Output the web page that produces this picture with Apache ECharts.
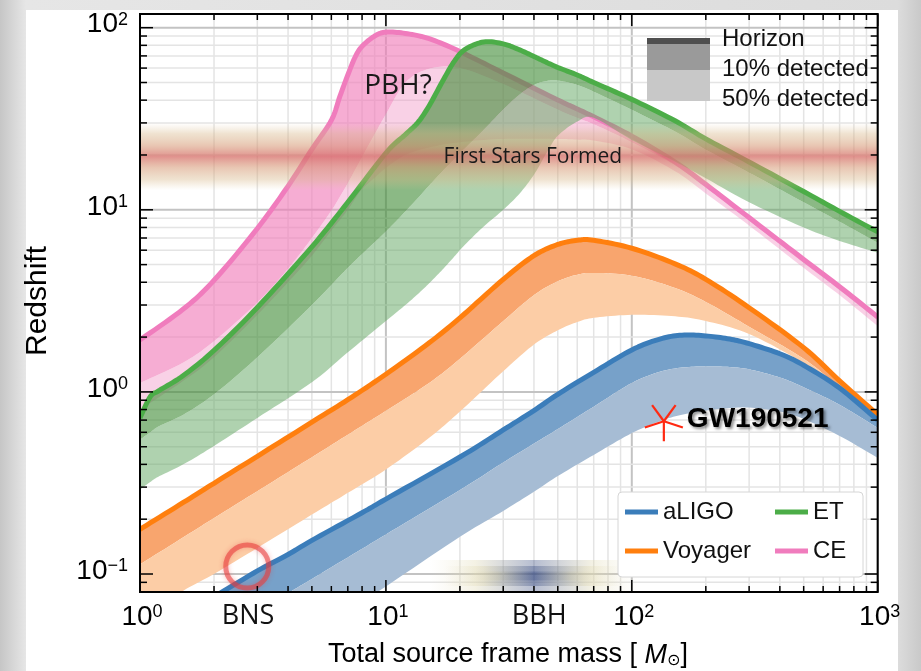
<!DOCTYPE html>
<html>
<head>
<meta charset="utf-8">
<script src="https://cdn.jsdelivr.net/npm/echarts@6/dist/echarts.min.js"></script>
<style>html,body{margin:0;padding:0;background:#fff}#c{width:921px;height:671px}</style>
</head>
<body>
<div id="c"></div>
<script>
// ---------------- data ----------------
const aligoMass    = [2, 3, 4, 5, 8, 10, 20, 30, 40, 50, 70, 100, 130, 160, 200, 250, 300, 400, 500, 700, 1000];
const aligoHorizon = [0.075, 0.104, 0.128, 0.153, 0.217, 0.258, 0.439, 0.618, 0.79, 0.97, 1.28, 1.70, 1.95, 2.05, 2.03, 1.95, 1.84, 1.62, 1.40, 1.05, 0.70];
const aligo10      = [0.0446, 0.0621, 0.0785, 0.094, 0.1375, 0.165, 0.289, 0.41, 0.52, 0.625, 0.83, 1.12, 1.29, 1.36, 1.38, 1.37, 1.33, 1.20, 1.06, 0.85, 0.634];
const aligo50      = [0.0197, 0.0285, 0.037, 0.0457, 0.0702, 0.0855, 0.160, 0.222, 0.283, 0.345, 0.451, 0.594, 0.69, 0.75, 0.79, 0.815, 0.82, 0.78, 0.71, 0.573, 0.434];

const voyagerMass    = [1, 1.5, 2, 3, 5, 7, 10, 15, 20, 30, 40, 50, 60, 70, 100, 150, 200, 300, 500, 700, 1000];
const voyagerHorizon = [0.176, 0.247, 0.315, 0.443, 0.682, 0.906, 1.25, 1.86, 2.55, 4.15, 5.6, 6.45, 6.8, 6.8, 6.15, 5.05, 4.15, 2.9, 1.75, 1.15, 0.75];
const voyager10      = [0.113, 0.159, 0.203, 0.285, 0.438, 0.582, 0.787, 1.12, 1.52, 2.45, 3.40, 4.05, 4.4, 4.5, 4.35, 3.72, 3.12, 2.28, 1.52, 1.06, 0.72];
const voyager50      = [0.057, 0.081, 0.100, 0.139, 0.212, 0.279, 0.375, 0.56, 0.78, 1.30, 1.82, 2.18, 2.42, 2.55, 2.65, 2.60, 2.45, 2.08, 1.44, 1.04, 0.70];

const etMass    = [1, 1.1, 1.2, 1.5, 2, 3, 5, 7, 10, 12, 13.5, 15, 17, 19, 21, 25, 30, 35, 40, 45, 50, 60, 70, 100, 150, 200, 300, 500, 700, 1000];
const etHorizon = [0.72, 0.94, 1.02, 1.23, 1.69, 2.91, 6.26, 11.0, 20.5, 25.9, 30.2, 37.3, 50.8, 65.6, 76, 83.5, 81.5, 75.5, 69.5, 64.5, 60.5, 55.0, 50.0, 40.4, 30.8, 24.5, 18.3, 12.6, 9.8, 7.57];
const et10      = [0.547, 0.60, 0.65, 0.75, 0.97, 1.55, 3.0, 4.8, 7.6, 9.8, 11.6, 13.6, 16.3, 19.0, 21.8, 27.5, 35.5, 43.0, 48.5, 51.0, 51.3, 48.5, 44.5, 35.4, 26.9, 21.4, 16.0, 11.0, 8.6, 6.59];
const et50      = [0.291, 0.32, 0.345, 0.40, 0.505, 0.72, 1.13, 1.65, 2.45, 3.0, 3.45, 3.95, 4.7, 5.55, 6.45, 8.1, 10.0, 12.3, 15.6, 20.5, 25.5, 30.5, 32.0, 24.2, 18.4, 14.9, 11.0, 8.0, 6.75, 5.81];

const ceMass    = [1, 1.5, 2, 3, 4, 5, 6, 6.5, 7, 7.5, 8, 9, 10, 12, 15, 20, 30, 50, 60, 70, 100, 150, 200, 300, 500, 700, 1000];
const ceHorizon = [1.93, 2.85, 4.1, 7.9, 13.5, 21.5, 31, 42, 55, 69, 79, 90, 94.5, 93, 87, 74, 56.4, 40.1, 35.8, 32.4, 25.4, 18.3, 13.8, 9.06, 5.34, 3.78, 2.58];
const ce10      = [1.12, 1.45, 1.9, 3.1, 4.75, 7.0, 9.9, 11.8, 14.0, 16.6, 19.5, 26.0, 33.5, 50, 59.5, 60, 49, 35.5, 32, 29.5, 23.5, 17.5, 13.2, 8.7, 5.1, 3.62, 2.47];
const ce50      = [0.80, 1.15, 1.55, 2.65, 4.0, 5.6, 7.7, 8.8, 10.0, 11.5, 13.0, 15.0, 17.0, 20.0, 22.0, 23.5, 24.5, 24.5, 24.3, 24.0, 21.5, 16.3, 12.3, 8.2, 4.8, 3.4, 2.3];

const firstStarsRange = [12.8, 30];        // redshift band "First Stars Formed"
const gw190521 = [135, 0.69];              // total mass, redshift
const bnsCircle = [2.73, 0.11];
const classLabels = ['BNS', 'BBH'];
const classMasses = [2.75, 42];

const xMajorTicks = [1, 10, 100, 1000];
const xTickExponents = ['0', '1', '2', '3'];
const xMinorTicks = [2, 3, 4, 5, 6, 7, 8, 9, 20, 30, 40, 50, 60, 70, 80, 90, 200, 300, 400, 500, 600, 700, 800, 900];
const yMajorTicks = [0.1, 1, 10, 100];
const yTickExponents = ['\u22121', '0', '1', '2'];
const yMinorTicks = [0.09, 0.2, 0.3, 0.4, 0.5, 0.6, 0.7, 0.8, 0.9, 2, 3, 4, 5, 6, 7, 8, 9, 20, 30, 40, 50, 60, 70, 80, 90];

// ---------------- helpers ----------------
function smooth(pts) {
  const out = [], n = pts.length, steps = 10;
  for (let i = 0; i < n - 1; i++) {
    const p0 = pts[i > 0 ? i - 1 : i], p1 = pts[i], p2 = pts[i + 1], p3 = pts[i + 2 < n ? i + 2 : i + 1];
    for (let s = 0; s < steps; s++) {
      const t = s / steps, t2 = t * t, t3 = t2 * t;
      const f = k => 0.5 * (2 * p1[k] + (-p0[k] + p2[k]) * t + (2 * p0[k] - 5 * p1[k] + 4 * p2[k] - p3[k]) * t2 + (-p0[k] + 3 * p1[k] - 3 * p2[k] + p3[k]) * t3);
      out.push([f(0), f(1)]);
    }
  }
  out.push(pts[n - 1].slice());
  return out;
}

function detectorSeries(name, mass, hor, p10, p50, sty, z) {
  return {
    type: 'custom', name: name, z: z, clip: true, silent: true,
    itemStyle: { color: sty.line },
    data: mass.map((m, i) => [m, hor[i], p10[i], p50[i]]),
    renderItem: function (params, api) {
      if (params.dataIndexInside !== 0) return null;
      const n = params.dataInsideLength;
      const T = [], M = [], B = [];
      for (let i = 0; i < n; i++) {
        const m = api.value(0, i);
        T.push(api.coord([m, api.value(1, i)]));
        M.push(api.coord([m, api.value(2, i)]));
        B.push(api.coord([m, api.value(3, i)]));
      }
      const t = smooth(T), mm = smooth(M), b = smooth(B);
      return { type: 'group', children: [
        { type: 'polygon', shape: { points: t.concat(mm.slice().reverse()) }, style: { fill: sty.band10 } },
        { type: 'polygon', shape: { points: mm.concat(b.slice().reverse()) }, style: { fill: sty.band50 } },
        { type: 'polyline', shape: { points: t }, style: { stroke: sty.line, lineWidth: 5, fill: null, lineJoin: 'round' } }
      ]};
    }
  };
}

const FONT = 'Liberation Sans';
const supRich = { s: { fontSize: 18, fontFamily: FONT, verticalAlign: 'top', lineHeight: 18, fill: '#000', color: '#000' } };

function txt(o) {
  const s = Object.assign({}, o);
  if (s.align) s.textAlign = s.align;
  if (s.verticalAlign) s.textVerticalAlign = s.verticalAlign;
  return s;
}

const ymin = Math.pow(10, -1.0988), ymax = Math.pow(10, 2.0752);

const chart = echarts.init(document.getElementById('c'), null, { renderer: 'canvas' });

const option = {
  animation: false,
  backgroundColor: { type: 'linear', x: 0, y: 0, x2: 1, y2: 0, colorStops: [
    { offset: 0, color: '#c6c6c6' }, { offset: 0.028, color: '#e6e6e6' },
    { offset: 0.975, color: '#dcdcdc' }, { offset: 1, color: '#c9c9c9' }] },
  grid: { left: 140, right: 43.3, top: 14, bottom: 79 },
  xAxis: { type: 'log', logBase: 10, min: 1, max: 1000,
    axisLine: { show: false }, axisTick: { show: false }, axisLabel: { show: false }, splitLine: { show: false } },
  yAxis: { type: 'log', logBase: 10, min: ymin, max: ymax,
    axisLine: { show: false }, axisTick: { show: false }, axisLabel: { show: false }, splitLine: { show: false } },
  legend: {
    data: ['aLIGO', 'ET', 'Voyager', 'CE'],
    left: 618, top: 492, width: 235, orient: 'horizontal',
    itemWidth: 33, itemHeight: 5, itemGap: 15, icon: 'rect',
    padding: [8, 10, 14, 7], z: 30,
    backgroundColor: '#ffffff', borderColor: '#d6d6d6', borderWidth: 1, borderRadius: 4,
    selectedMode: false,
    formatter: name => (name === 'aLIGO' || name === 'Voyager') ? '{a|' + name + '}' : '{b|' + name + '}',
    textStyle: { fontFamily: FONT, fontSize: 24, color: '#111', lineHeight: 24,
      rich: { a: { width: 97, fontSize: 24, fontFamily: FONT, color: '#111', lineHeight: 24 },
              b: { width: 40, fontSize: 24, fontFamily: FONT, color: '#111', lineHeight: 24 } } }
  },
  graphic: [
    { type: 'rect', z: -100, shape: { x: 26, y: 10, width: 872, height: 661 }, style: { fill: '#ffffff' }, silent: true },
    { type: 'text', z: 50, x: 38, y: 301, rotation: Math.PI / 2,
      style: txt({ text: 'Redshift', fontSize: 30, fontFamily: FONT, fill: '#000', align: 'center', verticalAlign: 'middle' }) },
    { type: 'text', z: 50, x: 508, y: 655,
      style: txt({ text: 'Total source frame mass [ {i|M}{u|\u2299}]', fontSize: 27, fontFamily: FONT, fill: '#000',
        align: 'center', verticalAlign: 'middle',
        rich: { i: { fontStyle: 'italic', fontSize: 27, fontFamily: FONT, fill: '#000' },
                u: { fontSize: 16, fontFamily: 'DejaVu Sans', verticalAlign: 'bottom', lineHeight: 14, fill: '#000' } } }) },
    { type: 'rect', z: 40, shape: { x: 647, y: 38, width: 63, height: 32 }, style: { fill: '#9a9a9a' } },
    { type: 'rect', z: 40, shape: { x: 647, y: 70, width: 63, height: 31 }, style: { fill: '#c8c8c8' } },
    { type: 'rect', z: 41, shape: { x: 647, y: 38, width: 63, height: 6 }, style: { fill: '#4f4f4f' } },
    { type: 'text', z: 41, x: 722, y: 39, style: txt({ text: 'Horizon', fontSize: 24, fontFamily: FONT, fill: '#111', align: 'left', verticalAlign: 'middle' }) },
    { type: 'text', z: 41, x: 722, y: 69, style: txt({ text: '10% detected', fontSize: 24, fontFamily: FONT, fill: '#111', align: 'left', verticalAlign: 'middle' }) },
    { type: 'text', z: 41, x: 722, y: 99, style: txt({ text: '50% detected', fontSize: 24, fontFamily: FONT, fill: '#111', align: 'left', verticalAlign: 'middle' }) }
  ],
  series: [
    { type: 'custom', name: 'xgrid', z: 1, silent: true, clip: false,
      data: xMajorTicks.concat(xMinorTicks).map(v => [v, 1]),
      renderItem: function (params, api) {
        const v = api.value(0), r = params.coordSys, x = api.coord([v, 1])[0];
        const major = xMajorTicks.indexOf(v) >= 0;
        return { type: 'line', shape: { x1: x, y1: r.y, x2: x, y2: r.y + r.height },
          style: { stroke: major ? '#c3c3c3' : '#e4e4e4', lineWidth: major ? 2 : 1.5 } };
      } },
    { type: 'custom', name: 'ygrid', z: 1, silent: true, clip: false,
      data: yMajorTicks.concat(yMinorTicks).map(v => [1, v]),
      renderItem: function (params, api) {
        const v = api.value(1), r = params.coordSys, y = api.coord([1, v])[1];
        const major = yMajorTicks.indexOf(v) >= 0;
        return { type: 'line', shape: { x1: r.x, y1: y, x2: r.x + r.width, y2: y },
          style: { stroke: major ? '#c3c3c3' : '#e4e4e4', lineWidth: major ? 2 : 1.5 } };
      } },
    detectorSeries('Voyager', voyagerMass, voyagerHorizon, voyager10, voyager50,
      { line: '#ff7f0e', band10: '#f8a56e', band50: '#fccda6' }, 3),
    detectorSeries('aLIGO', aligoMass, aligoHorizon, aligo10, aligo50,
      { line: '#3b7dba', band10: '#77a1c9', band50: '#a6bcd4' }, 4),
    detectorSeries('CE', ceMass, ceHorizon, ce10, ce50,
      { line: '#f07cbd', band10: 'rgba(240,122,184,0.62)', band50: 'rgba(240,145,195,0.42)' }, 5),
    detectorSeries('ET', etMass, etHorizon, et10, et50,
      { line: '#4cad48', band10: 'rgba(68,142,58,0.62)', band50: 'rgba(95,165,95,0.5)' }, 6),
    { type: 'custom', name: 'firstStars', z: 8, silent: true, clip: true,
      data: [[1, firstStarsRange[0]], [1000, firstStarsRange[1]]],
      renderItem: function (params, api) {
        if (params.dataIndexInside !== 0) return null;
        const r = params.coordSys;
        const yb = api.coord([1, api.value(1, 0)])[1], yt = api.coord([1, api.value(1, 1)])[1];
        return { type: 'rect', shape: { x: r.x - 4, y: yt, width: r.width + 8, height: yb - yt },
          style: { fill: new echarts.graphic.LinearGradient(0, 0, 0, 1, [
            { offset: 0, color: 'rgba(222,195,150,0)' },
            { offset: 0.16, color: 'rgba(214,180,132,0.38)' },
            { offset: 0.34, color: 'rgba(214,150,115,0.55)' },
            { offset: 0.5, color: 'rgba(214,108,102,0.74)' },
            { offset: 0.66, color: 'rgba(214,150,115,0.55)' },
            { offset: 0.84, color: 'rgba(214,180,132,0.38)' },
            { offset: 1, color: 'rgba(222,195,150,0)' }]) } };
      } },
    { type: 'custom', name: 'classes', z: 9, silent: true, clip: false,
      data: classMasses.map(m => [m, 1]),
      renderItem: function (params, api) {
        const i = params.dataIndexInside, r = params.coordSys;
        const x = api.coord([api.value(0), 1])[0], bottom = r.y + r.height;
        const children = [{ type: 'text', x: x, y: bottom + 11,
          style: txt({ text: classLabels[i], fontSize: 27, fontFamily: 'Open Sans', fill: '#111', align: 'center', verticalAlign: 'top' }) }];
        if (classLabels[i] === 'BBH') {
          const g = () => new echarts.graphic.LinearGradient(0, 0, 1, 0, [
            { offset: 0, color: 'rgba(228,222,190,0)' }, { offset: 0.22, color: 'rgba(222,214,172,0.9)' },
            { offset: 0.5, color: 'rgba(52,72,128,1)' }, { offset: 0.78, color: 'rgba(222,214,172,0.9)' },
            { offset: 1, color: 'rgba(228,222,190,0)' }]);
          [[210, 32], [180, 20], [130, 9]].forEach(function (d) {
            children.unshift({ type: 'rect', shape: { x: x - 5 - d[0] / 2, y: bottom - 16 - d[1] / 2, width: d[0], height: d[1] },
              style: { fill: g(), opacity: 0.36 } });
          });
        }
        return { type: 'group', children: children };
      } },
    { type: 'scatter', name: 'bns', z: 10, silent: true, data: [bnsCircle], symbol: 'circle', symbolSize: 43,
      itemStyle: { color: 'rgba(0,0,0,0)', borderColor: 'rgba(232,60,60,0.72)', borderWidth: 5,
        shadowBlur: 5, shadowColor: 'rgba(232,60,60,0.55)' } },
    { type: 'custom', name: 'gw', z: 11, silent: true, clip: false, data: [gw190521],
      renderItem: function (params, api) {
        const p = api.coord([api.value(0), api.value(1)]);
        const ch = [];
        [90, 162, 234, 306, 18].forEach(function (a) {
          const rad = a * Math.PI / 180;
          ch.push({ type: 'line', shape: { x1: p[0], y1: p[1], x2: p[0] + 20 * Math.cos(rad), y2: p[1] + 20 * Math.sin(rad) },
            style: { stroke: '#ff2a12', lineWidth: 2.2 } });
        });
        ch.push({ type: 'text', x: p[0] + 23, y: p[1] - 1.5,
          style: txt({ text: 'GW190521', fontSize: 28, fontWeight: 'bold', fontFamily: FONT, fill: '#000',
            align: 'left', verticalAlign: 'middle',
            textShadowColor: 'rgba(0,0,0,0.45)', textShadowBlur: 3, textShadowOffsetX: 2, textShadowOffsetY: 2 }) });
        return { type: 'group', children: ch };
      } },
    { type: 'custom', name: 'notes', z: 11, silent: true, clip: false,
      data: [[11.2, 47.8], [39.6, 19.4]],
      renderItem: function (params, api) {
        const i = params.dataIndexInside;
        const p = api.coord([api.value(0), api.value(1)]);
        const s = i === 0
          ? { text: 'PBH?', fontSize: 28, fontFamily: 'Open Sans', fill: '#1a1a1a', align: 'center', verticalAlign: 'middle' }
          : { text: 'First Stars Formed', fontSize: 21, fontFamily: 'Open Sans', fill: '#1a1a1a', align: 'center', verticalAlign: 'middle' };
        return { type: 'text', x: p[0], y: p[1], style: txt(s) };
      } },
    { type: 'custom', name: 'xticks', z: 12, silent: true, clip: false,
      data: xMajorTicks.concat(xMinorTicks).map(v => [v, 1]),
      renderItem: function (params, api) {
        const v = api.value(0), r = params.coordSys, x = api.coord([v, 1])[0];
        const idx = xMajorTicks.indexOf(v), len = idx >= 0 ? 12 : 6;
        const ch = [
          { type: 'line', shape: { x1: x, y1: r.y + r.height, x2: x, y2: r.y + r.height - len }, style: { stroke: '#000', lineWidth: 1.5 } },
          { type: 'line', shape: { x1: x, y1: r.y, x2: x, y2: r.y + len }, style: { stroke: '#000', lineWidth: 1.5 } }
        ];
        if (idx >= 0) ch.push({ type: 'text', x: x + 2, y: r.y + r.height + 11,
          style: txt({ text: '10{s|' + xTickExponents[idx] + '}', rich: supRich, fontSize: 28, fontFamily: FONT, fill: '#000', align: 'center', verticalAlign: 'top' }) });
        if (params.dataIndexInside === 0) ch.push({ type: 'rect', shape: { x: r.x, y: r.y, width: r.width, height: r.height },
          style: { fill: null, stroke: '#000', lineWidth: 2 } });
        return { type: 'group', children: ch };
      } },
    { type: 'custom', name: 'yticks', z: 12, silent: true, clip: false,
      data: yMajorTicks.concat(yMinorTicks).map(v => [1, v]),
      renderItem: function (params, api) {
        const v = api.value(1), r = params.coordSys, y = api.coord([1, v])[1];
        const idx = yMajorTicks.indexOf(v), len = idx >= 0 ? 13 : 7;
        const ch = [
          { type: 'line', shape: { x1: r.x, y1: y, x2: r.x + len, y2: y }, style: { stroke: '#000', lineWidth: 1.5 } },
          { type: 'line', shape: { x1: r.x + r.width, y1: y, x2: r.x + r.width - len, y2: y }, style: { stroke: '#000', lineWidth: 1.5 } }
        ];
        if (idx >= 0) ch.push({ type: 'text', x: r.x - 12, y: y - 3,
          style: txt({ text: '10{s|' + yTickExponents[idx] + '}', rich: supRich, fontSize: 28, fontFamily: FONT, fill: '#000', align: 'right', verticalAlign: 'middle' }) });
        return { type: 'group', children: ch };
      } }
  ]
};
chart.setOption(option);
</script>
</body>
</html>
